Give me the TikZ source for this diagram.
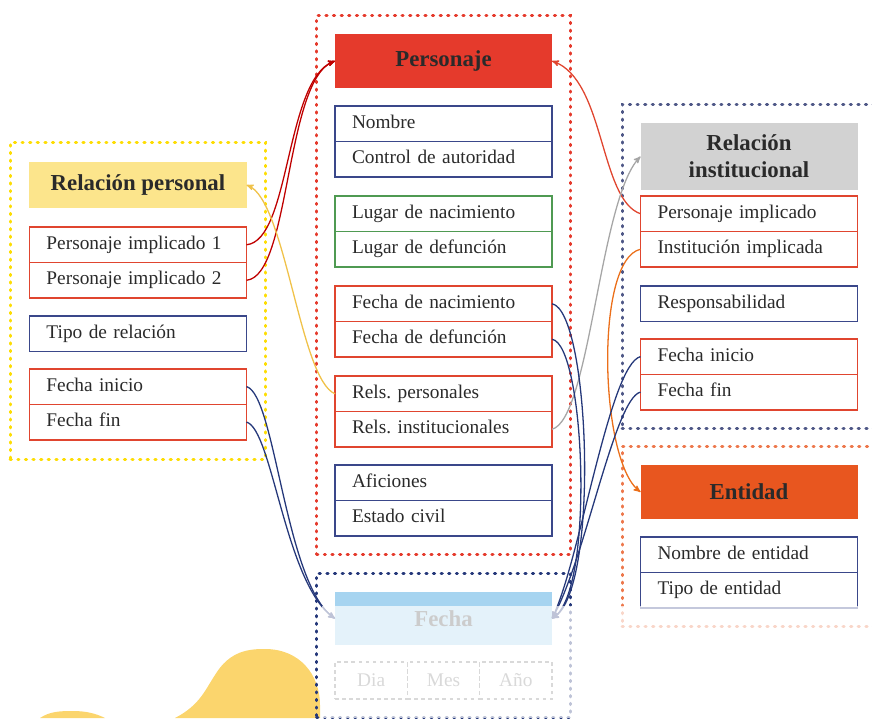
\documentclass[tikz,border=0pt]{standalone}
\usepackage{fontspec}
\setmainfont{Liberation Serif}
\usetikzlibrary{arrows,positioning,fit}
\definecolor{fred}{HTML}{E0452F}
\definecolor{fblue}{HTML}{3A478A}
\definecolor{fgreen}{HTML}{4F9A52}
\definecolor{persred}{HTML}{E53A2C}
\definecolor{entorange}{HTML}{E8561F}
\definecolor{relyellow}{HTML}{FCE58C}
\definecolor{relgray}{HTML}{D2D2D2}
\definecolor{fechblue}{HTML}{A6D4F0}
\definecolor{navy}{HTML}{25387A}
\definecolor{txt}{HTML}{2A2A2A}
\definecolor{blobyellow}{HTML}{FBD56D}
\definecolor{lnkyellow}{HTML}{F0C24A}

\begin{document}
\begin{tikzpicture}[x=0.03cm,y=-0.03cm,>=stealth',
field/.style={draw, rectangle, line width=1.2pt, text width=5.49cm,
    inner xsep=0.51cm, inner ysep=0pt, outer sep=0pt, minimum height=1.065cm,
    align=left, text height=12pt, text depth=4pt,
    font=\fontsize{16.5}{19}\selectfont, text=txt},
head/.style={rectangle, minimum width=6.51cm, inner sep=0pt, outer sep=0pt,
    align=center, font=\bfseries\fontsize{19.5}{23}\selectfont, text=txt},
group/.style={draw=#1, line width=2.6pt, dash pattern=on 1pt off 5.5pt,
    line cap=round, inner sep=0.55cm},
dbox/.style={draw=gray, dashed, line width=1pt, minimum width=2.17cm,
    minimum height=1.11cm, inner sep=0pt, outer sep=0pt,
    font=\fontsize{16.5}{19}\selectfont, text=gray},
link/.style={line width=1.1pt, ->}]
\useasboundingbox (0,0) rectangle (872,718);

\fill[blobyellow] (175,718) .. controls (200,705) and (205,690) .. (215,675)
    .. controls (230,650) and (250,649) .. (265,649)
    .. controls (300,649) and (320,675) .. (320,705) -- (320,718) -- cycle;
\fill[blobyellow] (40,718) .. controls (50,711) and (62,711) .. (73,711)
    .. controls (85,711) and (95,713) .. (105,718) -- cycle;

\node[head, fill=persred, minimum height=1.62cm] (pers) at (443.5,61) {Personaje};
\node[field, draw=fblue, below=0.54cm of pers] (nom) {Nombre};
\node[field, draw=fblue, below=0pt of nom] (ctrl) {Control de autoridad};
\node[field, draw=fgreen, below=0.57cm of ctrl] (lnac) {Lugar de nacimiento};
\node[field, draw=fgreen, below=0pt of lnac] (ldef) {Lugar de defunción};
\node[field, draw=fred, below=0.57cm of ldef] (fnac) {Fecha de nacimiento};
\node[field, draw=fred, below=0pt of fnac] (fdef) {Fecha de defunción};
\node[field, draw=fred, below=0.57cm of fdef] (rper) {Rels.\ personales};
\node[field, draw=fred, below=0pt of rper] (rins) {Rels.\ institucionales};
\node[field, draw=fblue, below=0.54cm of rins] (afic) {Aficiones};
\node[field, draw=fblue, below=0pt of afic] (estc) {Estado civil};
\node[group=persred, fit=(pers)(estc)] (gpers) {};

\node[head, fill=relyellow, minimum height=1.38cm] (rph) at (138,185) {Relación personal};
\node[field, draw=fred, below=0.57cm of rph] (pi1) {Personaje implicado 1};
\node[field, draw=fred, below=0pt of pi1] (pi2) {Personaje implicado 2};
\node[field, draw=fblue, below=0.54cm of pi2] (tipo) {Tipo de relación};
\node[field, draw=fred, below=0.52cm of tipo] (lfi) {Fecha inicio};
\node[field, draw=fred, below=0pt of lfi] (lff) {Fecha fin};
\node[group=yellow!80!orange, fit=(rph)(lff), inner sep=0.58cm] (grp) {};

\node[head, fill=relgray, minimum height=2.01cm] (rih) at (749,156.5) {Relación\\institucional};
\node[field, draw=fred, below=0.18cm of rih] (rpi) {Personaje implicado};
\node[field, draw=fred, below=0pt of rpi] (rii) {Institución implicada};
\node[field, draw=fblue, below=0.57cm of rii] (resp) {Responsabilidad};
\node[field, draw=fred, below=0.52cm of resp] (rfi) {Fecha inicio};
\node[field, draw=fred, below=0pt of rfi] (rff) {Fecha fin};
\node[group=fblue!70!gray, fit=(rih)(rff)] (gri) {};

\node[head, fill=entorange, minimum height=1.62cm] (enth) at (749,492) {Entidad};
\node[field, draw=fblue, below=0.54cm of enth] (nent) {Nombre de entidad};
\node[field, draw=fblue, below=0pt of nent] (tent) {Tipo de entidad};
\node[group=entorange!80!white, fit=(enth)(tent)] (gent) {};

\node[head, fill=fechblue, minimum height=1.59cm, text=txt!80] (fech) at (443.5,618.5) {Fecha};
\node[dbox, anchor=north west] (dia) at ([yshift=-0.51cm]fech.south west) {Dia};
\node[dbox, right=0pt of dia] (mes) {Mes};
\node[dbox, right=0pt of mes] (ano) {Año};
\node[group=navy, fit=(fech)(ano)] (gfech) {};

\draw[link, red!75!black] (pi1.east) .. controls +(44,-4) and +(-50,19) .. (pers.west);
\draw[link, red!75!black] (pi2.east) .. controls +(44,-4) and +(-50,19) .. (pers.west);
\draw[link, fred] (rpi.west) .. controls +(-41,-14) and +(53,19) .. (pers.east);
\draw[link, lnkyellow] (rper.west) .. controls +(-35,-14) and +(39,15) .. (rph.east);
\draw[link, gray!70] (rins.east) .. controls +(38,-10) and +(-41,43) .. (rih.west);
\draw[link, entorange!85!yellow] (rii.west) .. controls +(-46,10) and +(-41,-32) .. (enth.west);
\draw[link, navy] (fnac.east) .. controls +(38,7) and +(48,-28) .. (fech.east);
\draw[link, navy] (fdef.east) .. controls +(33,5) and +(43,-28) .. (fech.east);
\draw[link, navy] (rfi.west) .. controls +(-31,8) and +(28,-58) .. (fech.east);
\draw[link, navy] (rff.west) .. controls +(-26,6) and +(33,-58) .. (fech.east);
\draw[link, navy] (lfi.east) .. controls +(29,8) and +(-50,-35) .. (fech.west);
\draw[link, navy] (lff.east) .. controls +(26,7) and +(-50,-35) .. (fech.west);

\fill[white, opacity=0.7] (322,606) rectangle (872,718);
\end{tikzpicture}
\end{document}
